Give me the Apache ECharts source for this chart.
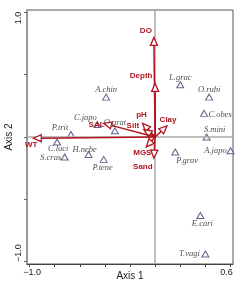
<!DOCTYPE html>
<html><head><meta charset="utf-8">
<script src="https://cdn.jsdelivr.net/npm/echarts@6/dist/echarts.min.js"></script>
<style>html,body{margin:0;padding:0;background:#fff}#c{width:245px;height:287px}</style>
</head><body><div id="c"></div>
<script>
// Species scores
const speciesNames = ['A.chin','C.japo','P.trit','O.grat','C.luci','S.cras','H.nebe','P.tene','L.grac','O.rubi','C.obes','S.mini','A.japo','P.grav','E.cari','T.vagi'];
const speciesX = [-0.39,-0.46,-0.67,-0.32,-0.78,-0.72,-0.53,-0.41,0.20,0.43,0.39,0.41,0.60,0.16,0.36,0.40];
const speciesY = [0.32,0.10,0.02,0.05,-0.04,-0.16,-0.14,-0.18,0.42,0.32,0.19,0.00,-0.11,-0.12,-0.63,-0.94];
// Environmental vectors
const envNames = ['DO','Depth','Clay','pH','Silt','SAL','WT','MGS','Sand'];
const envX = [-0.01,0.00,0.095,-0.10,-0.09,-0.41,-0.97,-0.07,-0.01];
const envY = [0.80,0.43,0.09,0.11,0.06,0.11,-0.01,-0.08,-0.17];
// Axis ticks
const xTicks = [-1.0,-0.8,-0.6,-0.4,-0.2,0,0.2,0.4,0.6];
const xTickLabels = [-1.0,0.6];
const yTicks = [-1.0,-0.5,0,0.5,1.0];
const yTickLabels = [-1.0,1.0];

// label placement (styling, pixels)
const spOff = {'A.chin':[0,-7],'C.japo':[-12,-7],'P.trit':[-11,-7],'O.grat':[0,-8],'C.luci':[1,7],'S.cras':[-14,1],'H.nebe':[-4,-5],'P.tene':[-1,8],'L.grac':[0,-7],'O.rubi':[0,-7],'C.obes':[16,1],'S.mini':[8,-7],'A.japo':[-15,0],'P.grav':[12,9],'E.cari':[2,8],'T.vagi':[-16,0]};
const envOff = {'DO':[-8,-7],'Depth':[-14,-8],'Clay':[1,-6],'pH':[-1,-9],'Silt':[-11,-4],'SAL':[-7,1],'WT':[-2,7],'MGS':[-4,6],'Sand':[-11,9]};
const RED = '#b3141f';
const fmt = v => (v < 0 ? '\u2212' : '') + Math.abs(v).toFixed(1);

const chart = echarts.init(document.getElementById('c'), null, {renderer:'canvas'});
chart.setOption({
  animation:false,
  backgroundColor:'#fff',
  grid:{left:27, top:10, right:12, bottom:23, containLabel:false, outerBoundsMode:'none', show:true, borderColor:'#555', borderWidth:1, backgroundColor:'transparent'},
  xAxis:{type:'value', min:-1.02, max:0.62,
    name:'Axis 1', nameLocation:'middle', nameGap:7, nameMoveOverlap:false, nameTextStyle:{fontSize:10, color:'#222', fontFamily:'Liberation Sans'},
    axisLine:{show:true, onZero:false, lineStyle:{color:'#444', width:1}},
    axisTick:{show:true, customValues:xTicks, length:3, lineStyle:{color:'#444'}},
    axisLabel:{show:true, customValues:xTickLabels, margin:4, fontSize:9, color:'#222', fontFamily:'Liberation Sans',
      formatter: v => v < 0 ? '{l|' + fmt(v) + '}' : '{r|' + fmt(v) + '}',
      rich:{l:{padding:[0,0,0,5], fontSize:9, color:'#222', fontFamily:'Liberation Sans'}, r:{padding:[0,8,0,0], fontSize:9, color:'#222', fontFamily:'Liberation Sans'}}},
    splitLine:{show:false}},
  yAxis:{type:'value', min:-1.02, max:1.02,
    name:'Axis 2', nameLocation:'middle', nameGap:13, nameMoveOverlap:false, nameRotate:90, nameTextStyle:{fontSize:10, color:'#222', fontFamily:'Liberation Sans'},
    axisLine:{show:true, onZero:false, lineStyle:{color:'#999', width:2}},
    axisTick:{show:true, customValues:yTicks, length:3, lineStyle:{color:'#666'}},
    axisLabel:{show:true, customValues:yTickLabels, rotate:90, margin:4, fontSize:9, color:'#222', fontFamily:'Liberation Sans',
      formatter: v => v < 0 ? '{l|' + fmt(v) + '}' : '{r|' + fmt(v) + '}',
      rich:{l:{padding:[0,0,0,17], fontSize:9, color:'#222', fontFamily:'Liberation Sans'}, r:{padding:[0,11,0,0], fontSize:9, color:'#222', fontFamily:'Liberation Sans'}}},
    splitLine:{show:false}},
  series:[
    {type:'scatter', z:2, symbol:'triangle', symbolSize:[7,6],
      itemStyle:{color:'#fff', borderColor:'#3a3a70', borderWidth:1},
      label:{show:true, position:'inside', formatter:'{b}', fontFamily:'Liberation Serif', fontStyle:'italic', fontSize:8.5, color:'#222'},
      data: speciesNames.map((n,i)=>({name:n, value:[speciesX[i], speciesY[i]], label:{offset:spOff[n]}})),
      markLine:{silent:true, symbol:'none', animation:false, label:{show:false},
        lineStyle:{color:'#aaa', width:1.5, type:'solid'},
        data:[{xAxis:0},{yAxis:0}]}
    },
    {type:'custom', z:5,
      data: envNames.map((n,i)=>[envX[i], envY[i]]),
      renderItem:(params, api)=>{
        const name = envNames[params.dataIndex];
        const o = api.coord([0,0]), t = api.coord([api.value(0), api.value(1)]);
        const dx=t[0]-o[0], dy=t[1]-o[1], len=Math.hypot(dx,dy), ux=dx/len, uy=dy/len;
        const L=8, W=3.5;
        const b=[t[0]-ux*L, t[1]-uy*L];
        const p1=[b[0]-uy*W, b[1]+ux*W], p2=[b[0]+uy*W, b[1]-ux*W];
        const off = envOff[name];
        return {type:'group', children:[
          {type:'line', shape:{x1:o[0],y1:o[1],x2:b[0],y2:b[1]}, style:{stroke:RED, lineWidth:1.5}},
          {type:'polygon', shape:{points:[t,p1,p2]}, style:{fill:'#fff', stroke:RED, lineWidth:1.3}},
          {type:'text', x:t[0]+off[0], y:t[1]+off[1], style:{text:name, fill:RED, fontSize:8, fontWeight:'bold', fontFamily:'Liberation Sans', align:'center', verticalAlign:'middle'}}
        ]};
      }
    }
  ]
});
</script></body></html>
